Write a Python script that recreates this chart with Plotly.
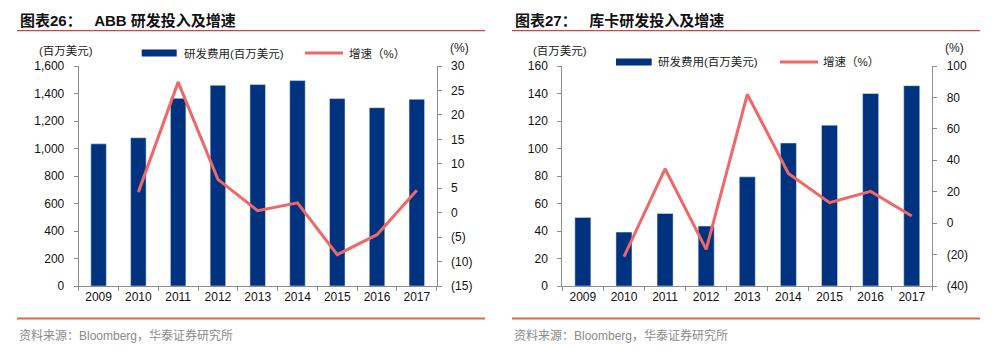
import plotly.graph_objects as go

years = ["2009", "2010", "2011", "2012", "2013", "2014", "2015", "2016", "2017"]
abb_rd = [1034, 1078, 1365, 1460, 1465, 1494, 1363, 1297, 1358]
abb_growth = [None, 4.2, 26.7, 6.8, 0.4, 2.0, -8.6, -4.5, 4.6]
kuka_rd = [49.9, 39.2, 52.8, 43.6, 79.4, 104, 117, 140, 145.7]
kuka_growth = [None, -21.3, 34.6, -16.7, 82, 31.6, 13, 20.2, 4.5]

abb_left_ticks = list(range(0, 1601, 200))
abb_right_vals = [30, 25, 20, 15, 10, 5, 0, -5, -10, -15]
abb_right_text = ["30", "25", "20", "15", "10", "5", "0", "(5)", "(10)", "(15)"]
kuka_left_ticks = list(range(0, 161, 20))
kuka_right_vals = [100, 80, 60, 40, 20, 0, -20, -40]
kuka_right_text = ["100", "80", "60", "40", "20", "0", "(20)", "(40)"]

title_left = "<b>图表26：   ABB 研发投入及增速</b>"
title_right = "<b>图表27：   库卡研发投入及增速</b>"
legend_bar = "研发费用(百万美元)"
legend_line = "增速（%）"
unit_left = "(百万美元)"
unit_right = "(%)"
source = "资料来源：Bloomberg，华泰证券研究所"

BAR = "#00337F"
LINE = "#F06767"
AX = "#8C8C8C"
FONT = "Liberation Sans, Noto Sans CJK SC, Arial, sans-serif"
W, H = 1000, 355

def px(x):
    return x / W

def py(y):
    return 1 - y / H

fig = go.Figure()
fig.add_trace(go.Bar(x=years, y=abb_rd, marker_color=BAR, width=0.39, xaxis="x", yaxis="y", showlegend=False))
fig.add_trace(go.Scatter(x=years, y=abb_growth, mode="lines", line=dict(color=LINE, width=3), xaxis="x", yaxis="y2", showlegend=False))
fig.add_trace(go.Bar(x=years, y=kuka_rd, marker_color=BAR, width=0.39, xaxis="x2", yaxis="y3", showlegend=False))
fig.add_trace(go.Scatter(x=years, y=kuka_growth, mode="lines", line=dict(color=LINE, width=3), xaxis="x2", yaxis="y4", showlegend=False))

ydom = [py(286), py(66)]
tickfont = dict(family=FONT, size=12, color="#111")

def xax(dom, anchor):
    return dict(domain=dom, anchor=anchor, type="category", range=[-0.5, 8.5], tickson="boundaries",
                ticks="outside", ticklen=4, tickcolor=AX, showline=True, linecolor=AX, linewidth=1,
                showgrid=False, tickfont=tickfont, fixedrange=True, automargin=False)

def yax(rng, vals, text, side, anchor, overlaying=None, fmt=None):
    d = dict(domain=ydom, anchor=anchor, range=rng, tickvals=vals, ticks="outside", ticklen=4,
             tickcolor=AX, showline=True, linecolor=AX, linewidth=1, showgrid=False, zeroline=False,
             tickfont=tickfont, side=side, ticklabelstandoff=7, automargin=False, fixedrange=True)
    if text is not None:
        d["ticktext"] = text
    if fmt:
        d["tickformat"] = fmt
    if overlaying:
        d["overlaying"] = overlaying
    return d

fig.update_layout(
    width=W, height=H, margin=dict(l=0, r=0, t=0, b=0, autoexpand=False),
    paper_bgcolor="white", plot_bgcolor="rgba(0,0,0,0)",
    font=dict(family=FONT),
    xaxis=xax([px(78.7), px(436.7)], "y"),
    yaxis=yax([0, 1600], abb_left_ticks, None, "left", "x", fmt=","),
    yaxis2=yax([-15, 30], abb_right_vals, abb_right_text, "right", "x", overlaying="y"),
    xaxis2=xax([px(562.3), px(932.3)], "y3"),
    yaxis3=yax([0, 160], kuka_left_ticks, None, "left", "x2"),
    yaxis4=yax([-40, 100], kuka_right_vals, kuka_right_text, "right", "x2", overlaying="y3"),
)

shapes = []
annos = []

def add_text(x, y, t, size=12, color="#111", xanchor="left"):
    annos.append(dict(x=px(x), y=py(y), xref="paper", yref="paper", text=t, showarrow=False,
                      xanchor=xanchor, yanchor="middle", font=dict(family=FONT, size=size, color=color)))

panels = [
    dict(x0=17, x1=485, title=title_left, leg_y=53, rect=(141.7, 176.7), t1=182, ln=(305, 343), t2=347,
         unit1=(37, 50), unit2=(448, 48)),
    dict(x0=512, x1=980, title=title_right, leg_y=62, rect=(616, 651.7), t1=656, ln=(780, 818), t2=821,
         unit1=(531, 50), unit2=(942.5, 48)),
]
for p in panels:
    add_text(p["x0"] + 1, 20, p["title"], size=15, color="#111")
    shapes.append(dict(type="line", xref="paper", yref="paper", x0=px(p["x0"]), x1=px(p["x1"]),
                       y0=py(30.7), y1=py(30.7), line=dict(color="#C8161D", width=1)))
    shapes.append(dict(type="line", xref="paper", yref="paper", x0=px(p["x0"]), x1=px(p["x1"]),
                       y0=py(318.5), y1=py(318.5), line=dict(color="#E4654B", width=2)))
    add_text(p["x0"], 335, source, size=12, color="#8A8A8A")
    ly = p["leg_y"]
    shapes.append(dict(type="rect", xref="paper", yref="paper", x0=px(p["rect"][0]), x1=px(p["rect"][1]),
                       y0=py(ly + 3.5), y1=py(ly - 3.5), fillcolor=BAR, line=dict(width=0)))
    add_text(p["t1"], ly, legend_bar, size=11.5, color="#222")
    shapes.append(dict(type="line", xref="paper", yref="paper", x0=px(p["ln"][0]), x1=px(p["ln"][1]),
                       y0=py(ly), y1=py(ly), line=dict(color=LINE, width=3)))
    add_text(p["t2"], ly, legend_line, size=11.5, color="#222")
    add_text(p["unit1"][0], p["unit1"][1], unit_left, size=11.5, color="#222")
    add_text(p["unit2"][0], p["unit2"][1], unit_right, size=12, color="#222")

fig.update_layout(shapes=shapes, annotations=annos)
fig.write_html("out.html", config={"displayModeBar": False},
               post_script="document.body.style.margin='0';document.body.style.overflow='hidden';")
